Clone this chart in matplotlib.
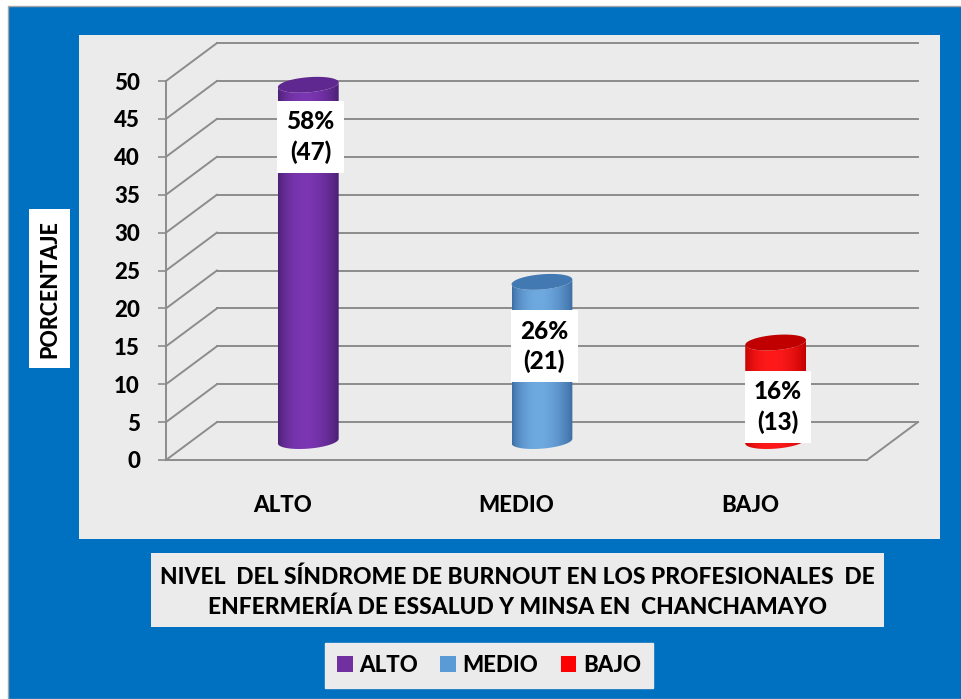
import numpy as np
import matplotlib.pyplot as plt
from matplotlib import font_manager as fm
from matplotlib.patches import Rectangle, Polygon, Patch
from matplotlib.colors import to_rgb

categorias = ['ALTO', 'MEDIO', 'BAJO']
valores = [47, 21, 13]
porcentajes = ['58%', '26%', '16%']
yticks = [0, 5, 10, 15, 20, 25, 30, 35, 40, 45, 50]
titulo = 'NIVEL  DEL SÍNDROME DE BURNOUT EN LOS PROFESIONALES  DE\nENFERMERÍA DE ESSALUD Y MINSA EN  CHANCHAMAYO'
ylabel = 'PORCENTAJE'

# legend colours and cylinder shading (dark edge, light centre, top cap)
colores = ['#7030A0', '#5B9BD5', '#FF0000']
oscuro = ['#4A1F72', '#3A6BA2', '#C00000']
claro = ['#7B36B2', '#6EA9E0', '#FF1A1A']
tapa = ['#5F2891', '#4279B2', '#C00000']
label_drop = [4.4, 6.0, 6.0]


# heavy font file looked up directly
def font_file(key, peso):
    for f in fm.fontManager.ttflist:
        base = f.fname.split('/')[-1].lower()
        if base.startswith(key) and peso in base and 'italic' not in base:
            return f.fname
    return None


path = (font_file('lato', 'heavy') or font_file('lato', 'black') or font_file('lato', 'bold')
        or font_file('opensans', 'bold'))


def fp(size):
    if path:
        return fm.FontProperties(fname=path, size=size)
    return fm.FontProperties(family='DejaVu Sans', weight='bold', size=size)


W, H = 962, 699
fig = plt.figure(figsize=(W / 100, H / 100), dpi=100)

# background in pixel coordinates
bg = fig.add_axes([0, 0, 1, 1])
bg.set_xlim(0, W)
bg.set_ylim(H, 0)
bg.axis('off')
bg.add_patch(Rectangle((8, 6), W - 8, H - 6, fc='#0070C0', ec='#A6A6A6', lw=1))
bg.add_patch(Rectangle((79, 35), 861, 504, fc='#EBEBEB', ec='none'))
bg.add_patch(Rectangle((151, 553), 733, 74, fc='#EBEBEB', ec='none'))
bg.add_patch(Rectangle((29, 209), 41, 159, fc='white', ec='none'))
bg.text(50, 289, ylabel, rotation=90, ha='center', va='center', fontproperties=fp(15.5))
bg.text(517.5, 592, titulo, ha='center', va='center', fontproperties=fp(16.4), linespacing=1.5)

handles = [Patch(fc=c, ec='none') for c in colores]
leg = bg.legend(handles, categorias, loc='center', bbox_to_anchor=(489 / W, 1 - 665.5 / H),
                bbox_transform=fig.transFigure, ncol=3, prop=fp(16), frameon=True,
                fancybox=False, facecolor='#EBEBEB', edgecolor='#EBEBEB', framealpha=1,
                handlelength=0.7, handleheight=0.7, handletextpad=0.3, columnspacing=1.0,
                borderpad=0.55, borderaxespad=0)

# chart axes = front plane of the 3D box
ax = fig.add_axes([166 / W, 1 - 460 / H, (867 - 166) / W, (460 - 81) / H])
ax.set_xlim(0, 3)
ax.set_ylim(0, 50)
ax.patch.set_visible(False)
for s in ['top', 'right']:
    ax.spines[s].set_visible(False)
for s in ['left', 'bottom']:
    ax.spines[s].set_color('#8C8C8C')
    ax.spines[s].set_linewidth(1.4)
ax.set_yticks(yticks)
ax.set_yticklabels([str(v) for v in yticks], fontproperties=fp(16))
ax.tick_params(axis='y', direction='out', length=5.8, width=1.2, color='#8C8C8C', pad=13)
ax.set_xticks([i + 0.5 for i in range(len(categorias))])
ax.set_xticklabels(categorias, fontproperties=fp(16))
ax.tick_params(axis='x', length=0, pad=25)

DX, DY = 0.218, 5.0  # depth offset of the back wall
gc = '#8C8C8C'
for v in yticks:
    ax.plot([0, DX], [v, v + DY], color=gc, lw=1.4, clip_on=False, zorder=1)
    ax.plot([DX, 3 + DX], [v + DY, v + DY], color=gc, lw=1.4, clip_on=False, zorder=1)
ax.plot([3, 3 + DX], [0, DY], color=gc, lw=1.4, clip_on=False, zorder=1)

# cylinders
a, b, k = 0.13, 1.0, 2.4
t = np.linspace(0, 2 * np.pi, 200)
for i, v in enumerate(valores):
    xc = i + 0.5 + DX / 2
    y0, y1 = DY / 2, v + DY / 2
    tl = np.linspace(np.pi, 2 * np.pi, 100)
    xs = xc + a * np.cos(tl)
    bot = np.column_stack([xs, y0 + b * np.sin(tl) + k * (xs - xc)])
    top = np.column_stack([xs, y1 + b * np.sin(tl) + k * (xs - xc)])[::-1]
    body = Polygon(np.vstack([bot, top]), closed=True, fc='none', ec='none',
                   transform=ax.transData)
    ax.add_patch(body)
    u = np.linspace(0, 1, 120)
    prof = np.clip(np.sin(np.pi * u ** 0.85), 0, 1) ** 0.8
    c0, c1 = np.array(to_rgb(oscuro[i])), np.array(to_rgb(claro[i]))
    grad = (c0[None, :] * (1 - prof[:, None]) + c1[None, :] * prof[:, None])[None, :, :]
    im = ax.imshow(grad, extent=[xc - a, xc + a, y0 - 2 * b - 1, y1 + 2 * b + 1],
                   aspect='auto', origin='lower', zorder=2, clip_on=True)
    im.set_clip_path(body)
    xe = xc + a * np.cos(t)
    cap = np.column_stack([xe, y1 + b * np.sin(t) + k * (xe - xc)])
    ax.add_patch(Polygon(cap, closed=True, fc=tapa[i], ec='none', zorder=3, clip_on=False))
    ax.text(xc + 0.01, v - label_drop[i], f'{porcentajes[i]}\n({v})', ha='center', va='center',
            fontproperties=fp(17.5), linespacing=1.35, zorder=5,
            bbox=dict(boxstyle='square,pad=0.38', fc='white', ec='none'))

ax.set_xlim(0, 3)
ax.set_ylim(0, 50)

fig.savefig('out.png', dpi=100)
